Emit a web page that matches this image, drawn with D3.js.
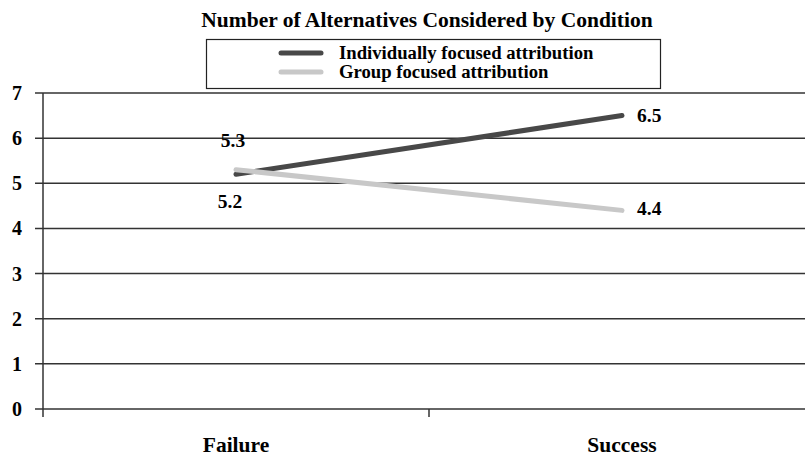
<!DOCTYPE html>
<html><head><meta charset="utf-8">
<script src="https://cdn.jsdelivr.net/npm/d3@7"></script>
<style>body{margin:0;background:#fff}svg{display:block}</style>
</head><body><svg id="c" width="805" height="457"></svg>
<script>
const categories = ["Failure", "Success"];
const seriesNames = ["Individually focused attribution", "Group focused attribution"];
const individualValues = [5.2, 6.5];
const groupValues = [5.3, 4.4];
const yTicks = [0, 1, 2, 3, 4, 5, 6, 7];
const colors = ["#484848", "#c8c8c8"];

const FONT = "'Liberation Serif', 'Times New Roman', Times, serif";
const svg = d3.select("#c").attr("font-family", FONT).attr("font-weight", "bold");
const plotLeft = 43, plotRight = 815, plotTop = 93, plotBottom = 409;
const x = d3.scaleBand().domain(categories).range([plotLeft, plotRight]);
const y = d3.scaleLinear().domain([0, 7]).range([plotBottom, plotTop]);

// gridlines
svg.append("g").selectAll("line").data(yTicks).join("line")
  .attr("x1", plotLeft - 8).attr("x2", 805)
  .attr("y1", d => y(d)).attr("y2", d => y(d))
  .attr("stroke", "#333").attr("stroke-width", 1.5);

// y axis
svg.append("line").attr("x1", plotLeft).attr("x2", plotLeft).attr("y1", y(7)).attr("y2", plotBottom + 8)
  .attr("stroke", "#333").attr("stroke-width", 1.5);
svg.append("g").selectAll("text").data(yTicks).join("text")
  .attr("x", 17).attr("y", d => y(d)).attr("dy", "0.35em")
  .attr("text-anchor", "middle").attr("font-size", 20).text(d => d);

// x axis ticks
svg.append("line").attr("x1", x("Success")).attr("x2", x("Success"))
  .attr("y1", plotBottom).attr("y2", plotBottom + 8).attr("stroke", "#333").attr("stroke-width", 1.5);
svg.append("g").selectAll("text").data(categories).join("text")
  .attr("x", d => x(d) + x.bandwidth() / 2).attr("y", 452)
  .attr("text-anchor", "middle").attr("font-size", 21.5).text(d => d);

// lines
const series = [individualValues, groupValues];
const line = d3.line().x((d, i) => x(categories[i]) + x.bandwidth() / 2).y(d => y(d));
svg.append("g").selectAll("path").data(series).join("path")
  .attr("d", d => line(d)).attr("fill", "none")
  .attr("stroke", (d, i) => colors[i]).attr("stroke-width", 5).attr("stroke-linecap", "round");

// data labels
const cx = c => x(c) + x.bandwidth() / 2;
const labels = [
  {x: cx("Failure") - 3, y: y(groupValues[0]) - 30, t: groupValues[0], a: "middle"},
  {x: cx("Failure") - 6, y: y(individualValues[0]) + 27, t: individualValues[0], a: "middle"},
  {x: cx("Success") + 15, y: y(individualValues[1]), t: individualValues[1], a: "start"},
  {x: cx("Success") + 15, y: y(groupValues[1]) - 2, t: groupValues[1], a: "start"}
];
svg.append("g").selectAll("text").data(labels).join("text")
  .attr("x", d => d.x).attr("y", d => d.y).attr("dy", "0.35em")
  .attr("text-anchor", d => d.a).attr("font-size", 19.5).text(d => d.t.toFixed(1));

// title
svg.append("text").attr("x", 427).attr("y", 27).attr("text-anchor", "middle")
  .attr("font-size", 21.5).text("Number of Alternatives Considered by Condition");

// legend
svg.append("rect").attr("x", 206.5).attr("y", 39.5).attr("width", 454).attr("height", 49)
  .attr("fill", "#fff").attr("stroke", "#222").attr("stroke-width", 1.2);
const lg = svg.append("g").selectAll("g").data(seriesNames).join("g")
  .attr("transform", (d, i) => `translate(0,${53 + i * 19})`);
lg.append("line").attr("x1", 281).attr("x2", 321).attr("y1", 0).attr("y2", 0)
  .attr("stroke", (d, i) => colors[i]).attr("stroke-width", 5).attr("stroke-linecap", "round");
lg.append("text").attr("x", 339).attr("y", 6).attr("font-size", 18.7).text(d => d);
</script></body></html>
